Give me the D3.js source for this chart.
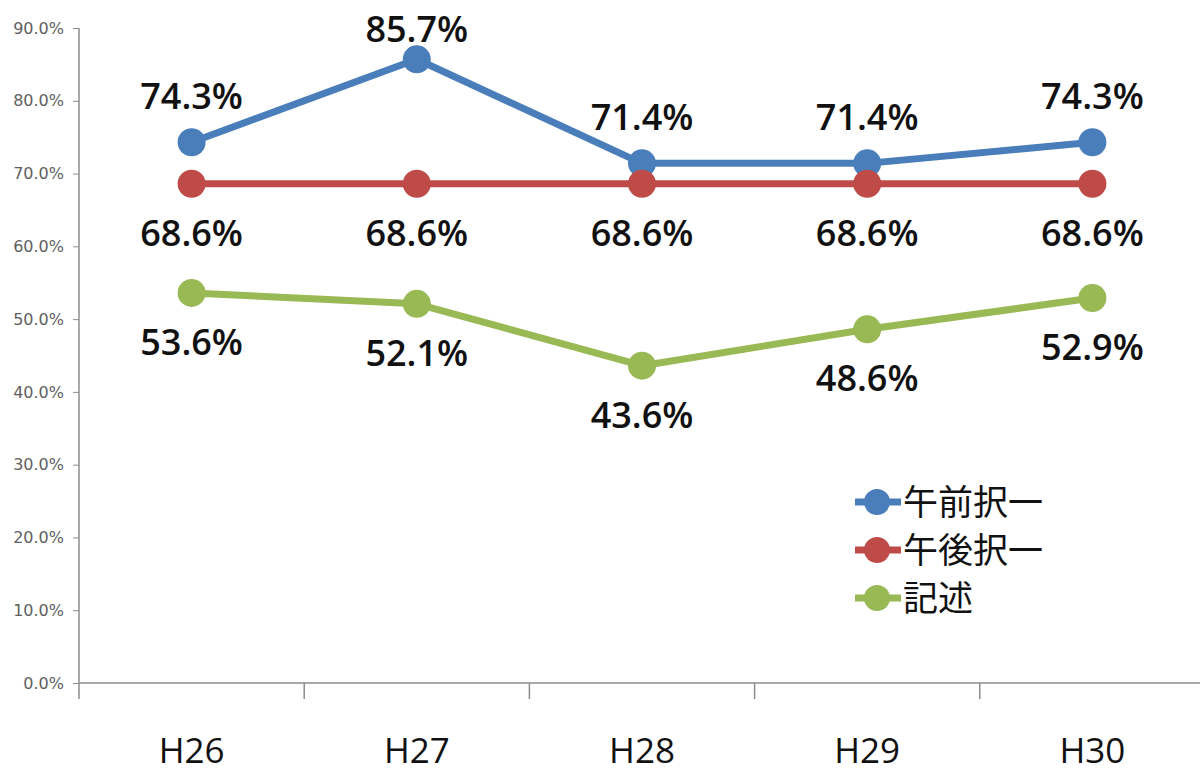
<!DOCTYPE html>
<html lang="ja">
<head>
<meta charset="UTF-8">
<title>午前択一・午後択一・記述</title>
<script src="https://d3js.org/d3.v7.min.js"></script>
<style>
  body { margin: 0; background: #fff; }
  .ylab { font-family: "DejaVu Sans", sans-serif; font-size: 16px; fill: #606060; }
  .xlab { font-family: "Open Sans", sans-serif; font-size: 35px; fill: #111; }
  .dlab { font-family: "Open Sans", sans-serif; font-size: 36px; font-weight: 600; fill: #111; }
  .leg { font-family: "Noto Sans CJK JP", sans-serif; font-size: 35px; fill: #111; }
</style>
</head>
<body>
<div id="chart"></div>
<script>
const years = ["H26", "H27", "H28", "H29", "H30"];
const seriesNames = ["午前択一", "午後択一", "記述"];
const morning = [74.3, 85.7, 71.4, 71.4, 74.3];
const afternoon = [68.6, 68.6, 68.6, 68.6, 68.6];
const written = [53.6, 52.1, 43.6, 48.6, 52.9];
const yTicks = [0, 10, 20, 30, 40, 50, 60, 70, 80, 90];
const colors = ["#4a7ebb", "#be4b48", "#98b954"];

const W = 1200, H = 772;
const svg = d3.select("#chart").append("svg")
  .attr("width", W).attr("height", H);

const x = d3.scaleBand().domain(years).range([79, 1205]);
const y = d3.scaleLinear().domain([0, 90]).range([683, 28]);

// y axis
const yAxis = d3.axisLeft(y).tickValues(yTicks).tickSize(6).tickPadding(9)
  .tickFormat(d => d.toFixed(1) + "%");
const gy = svg.append("g").attr("transform", "translate(79,0)").call(yAxis);
gy.select(".domain").remove();
gy.selectAll("line").attr("stroke", "#8c8c8c");
gy.selectAll("text").attr("class", "ylab").attr("fill", null);
svg.append("line").attr("x1", 79).attr("x2", 79).attr("y1", 28).attr("y2", 699)
  .attr("stroke", "#8c8c8c").attr("stroke-width", 1.5);

// x axis
const gx = svg.append("g").attr("transform", "translate(0,683)");
gx.append("line").attr("x1", 79).attr("x2", 1205).attr("y1", 0).attr("y2", 0)
  .attr("stroke", "#8c8c8c").attr("stroke-width", 1.5);
gx.selectAll("line.tk").data(years.slice(1)).enter().append("line")
  .attr("class", "tk")
  .attr("x1", d => x(d)).attr("x2", d => x(d))
  .attr("y1", 0).attr("y2", 16)
  .attr("stroke", "#8c8c8c").attr("stroke-width", 1.5);
gx.selectAll("text").data(years).enter().append("text")
  .attr("class", "xlab")
  .attr("x", d => x(d) + x.bandwidth() / 2)
  .attr("y", 80)
  .attr("text-anchor", "middle")
  .text(d => d);

const cx = d => x(d) + x.bandwidth() / 2;
const allSeries = [morning, afternoon, written];
const labelOffset = [-33, 62, 62];

const line = d3.line().x((d, i) => cx(years[i])).y(d => y(d));

allSeries.forEach((vals, s) => {
  svg.append("path").datum(vals)
    .attr("d", line)
    .attr("fill", "none")
    .attr("stroke", colors[s])
    .attr("stroke-width", 7)
    .attr("stroke-linejoin", "round");
  svg.selectAll(null).data(vals).enter().append("circle")
    .attr("cx", (d, i) => cx(years[i]))
    .attr("cy", d => y(d))
    .attr("r", 14)
    .attr("fill", colors[s]);
});

// data labels (kept inside the top edge like the spreadsheet does)
allSeries.forEach((vals, s) => {
  svg.selectAll(null).data(vals).enter().append("text")
    .attr("class", "dlab")
    .attr("x", (d, i) => cx(years[i]))
    .attr("y", d => Math.max(y(d) + labelOffset[s], 42))
    .attr("text-anchor", "middle")
    .text(d => d.toFixed(1) + "%");
});

// legend
const leg = svg.append("g").attr("transform", "translate(855,502)");
seriesNames.forEach((name, i) => {
  const g = leg.append("g").attr("transform", `translate(0,${i * 48})`);
  g.append("line").attr("x1", 0).attr("x2", 46).attr("y1", 0).attr("y2", 0)
    .attr("stroke", colors[i]).attr("stroke-width", 7);
  g.append("circle").attr("cx", 22).attr("cy", 0).attr("r", 13).attr("fill", colors[i]);
  g.append("text").attr("class", "leg").attr("x", 48).attr("y", 13).text(name);
});
</script>
</body>
</html>
